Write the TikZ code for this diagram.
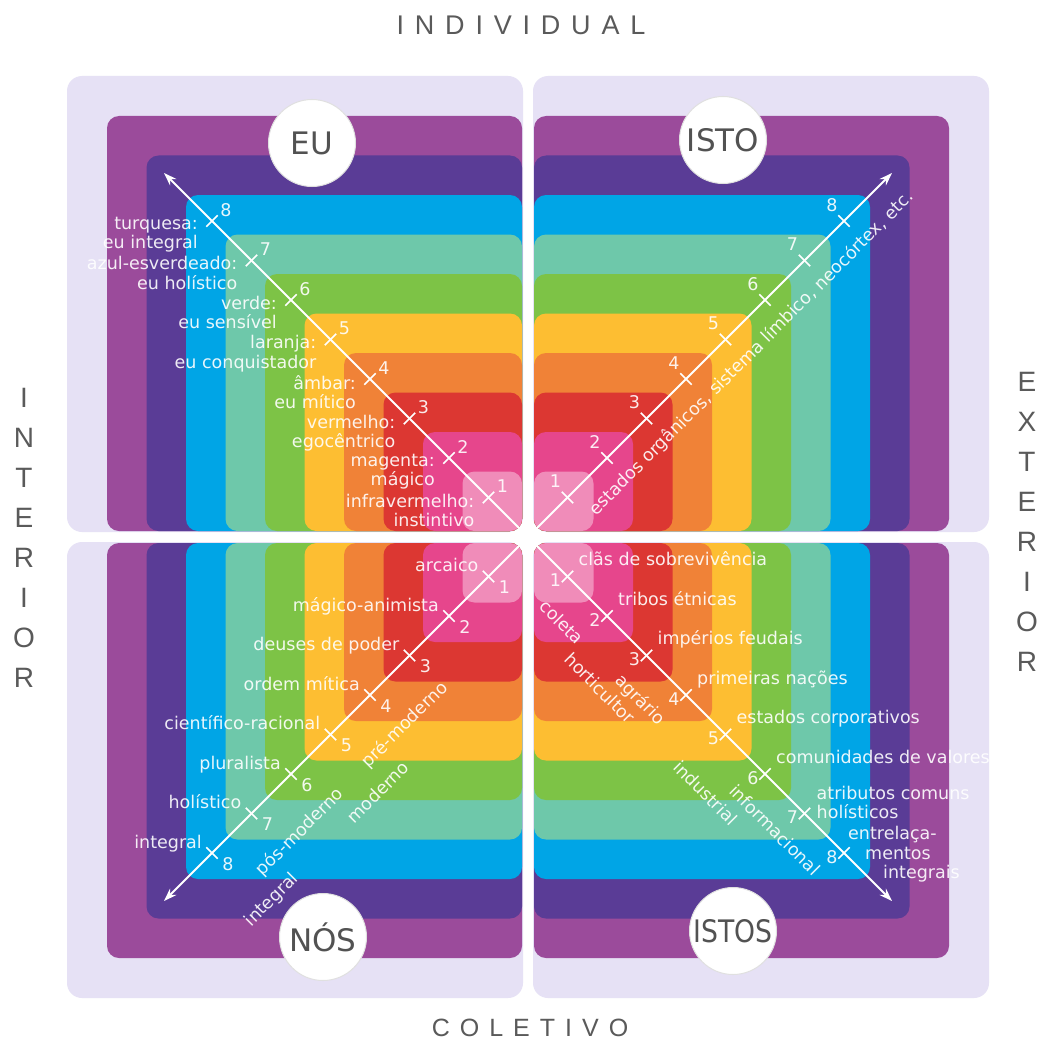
\documentclass[tikz,border=0pt]{standalone}
\usepackage{fontspec}
\setmainfont{DejaVu Sans}
\newfontfamily\capsfam[LetterSpace=40]{Liberation Sans}
\usetikzlibrary{arrows.meta,calc}
\definecolor{lvlInfra}{HTML}{F08CB9}
\definecolor{lvlMagenta}{HTML}{E6468C}
\definecolor{lvlRed}{HTML}{DC3732}
\definecolor{lvlAmber}{HTML}{F08237}
\definecolor{lvlOrange}{HTML}{FDBE32}
\definecolor{lvlGreen}{HTML}{7DC346}
\definecolor{lvlTeal}{HTML}{6EC8AA}
\definecolor{lvlTurq}{HTML}{00A5E6}
\definecolor{lvlIndigo}{HTML}{5A3C96}
\definecolor{lvlViolet}{HTML}{9B4B9B}
\definecolor{quadBg}{HTML}{E6E1F5}
\definecolor{sideGray}{HTML}{5A5A5A}
\newcommand\labfont{\fontsize{17.5}{19.5}\selectfont}
\newcommand\polefont{\fontsize{31}{31}\selectfont}

\begin{document}
\begin{tikzpicture}[
    x=1pt,y=-1pt,
    lab/.style={text=white,text opacity=.9,font=\labfont,inner sep=0pt},
    num/.style={text=white,text opacity=.9,font=\labfont,inner sep=0pt},
    axis/.style={draw=white,line width=1.8pt,-{Stealth[length=13pt,width=9pt]}},
    tickmark/.style={draw=white,line width=1.6pt},
    pole/.style={circle,fill=white,draw=black!12,line width=1pt,minimum size=87pt,inner sep=0pt,font=\polefont,text=black!68},
    side/.style={text=sideGray,inner sep=0pt}
]
\useasboundingbox (0,0) rectangle (1038,1043);
\fill[white] (0,0) rectangle (1038,1043);
\coordinate (c) at (528,537);

% quadrant backgrounds and nested level bands
\foreach \sx/\sy in {-1/-1,1/-1,-1/1,1/1}{
  \fill[quadBg,rounded corners=15pt] ($(c)+(5*\sx,5*\sy)$) rectangle ($(c)+(461*\sx,461*\sy)$);
  \foreach \col [count=\i] in {lvlViolet,lvlIndigo,lvlTurq,lvlTeal,lvlGreen,lvlOrange,lvlAmber,lvlRed,lvlMagenta,lvlInfra}{
    \pgfmathsetmacro\d{26+39.5*(11-\i)}
    \fill[\col,rounded corners=12pt] ($(c)+(6*\sx,6*\sy)$) rectangle ($(c)+(\d*\sx,\d*\sy)$);
  }
}

% diagonal axes
\coordinate (tipUL) at ($(c)+(-364,-364)$);
\coordinate (tipUR) at ($(c)+(364,-364)$);
\coordinate (tipLL) at ($(c)+(-364,364)$);
\coordinate (tipLR) at ($(c)+(364,364)$);
\draw[axis] (c) -- (tipUL);
\draw[axis] (c) -- (tipUR);
\draw[axis] (c) -- (tipLL);
\draw[axis] (c) -- (tipLR);

% ticks on the axes
\foreach \sx/\sy/\q in {-1/-1/ul,1/-1/ur,-1/1/ll,1/1/lr}
  \foreach \k in {1,...,8}{
    \coordinate (\q\k) at ($(c)+(39.5*\k*\sx,39.5*\k*\sy)$);
    \draw[tickmark] ($(\q\k)+(5.7*\sy,-5.7*\sx)$) -- ($(\q\k)+(-5.7*\sy,5.7*\sx)$);
  }

% level numbers
\foreach \k in {1,...,8}{
  \node[num] (ulNum\k) at ($(ul\k)+(14,-11)$) {\k};
  \node[num] (urNum\k) at ($(ur\k)+(-12,-16)$) {\k};
  \node[num] (llNum\k) at ($(ll\k)+(16,11)$) {\k};
  \node[num] (lrNum\k) at ($(lr\k)+(-12,4)$) {\k};
}

% EU: colours and selves
\foreach \k/\txt in {1/{infravermelho:\\instintivo},2/{magenta:\\mágico},3/{vermelho:\\egocêntrico},4/{âmbar:\\eu mítico},5/{laranja:\\eu conquistador},6/{verde:\\eu sensível},7/{azul-esverdeado:\\eu holístico},8/{turquesa:\\eu integral}}
  \node[lab,anchor=north east,align=right] (ulLab\k) at ($(ul\k)+(-14,-4)$) {\txt};

% ISTO: along the axis
\node[lab,rotate=45] (urLab) at ($(c)+(223.6,-183.6)$) {estados orgânicos, sistema límbico, neocórtex, etc.};

% NOS: worldviews
\foreach \k/\txt in {1/arcaico,2/mágico-animista,3/deuses de poder,4/ordem mítica,5/científico-racional,6/pluralista,7/holístico,8/integral}
  \node[lab,anchor=base east] (llLab\k) at ($(ll\k)+(-10,-5)$) {\txt};
\node[lab,rotate=45] (premod) at ($(c)+(-123,188)$) {pré-moderno};
\node[lab,rotate=45] (mod) at ($(c)+(-150,255)$) {moderno};
\node[lab,rotate=45] (posmod) at ($(c)+(-228,295)$) {pós-moderno};
\node[lab,rotate=45] (integ) at ($(c)+(-256,363)$) {integral};

% ISTOS: social systems
\foreach \k/\txt in {1/clãs de sobrevivência,2/tribos étnicas,3/impérios feudais,4/primeiras nações,5/estados corporativos,6/comunidades de valores}
  \node[lab,anchor=base west] (lrLab\k) at ($(lr\k)+(11,-11)$) {\txt};
\node[lab,anchor=north west,align=left] (lrLab7) at ($(lr7)+(12,-28)$) {atributos comuns\\holísticos};
\node[lab,anchor=north west,align=left] (lrLab8) at ($(lr8)+(4,-27)$) {entrelaça-\\\hspace*{17pt}mentos\\\hspace*{35pt}integrais};
\node[lab,rotate=-45] (coleta) at ($(c)+(34,85)$) {coleta};
\node[lab,rotate=-45] (horti) at ($(c)+(72,151)$) {horticultor};
\node[lab,rotate=-45] (agrar) at ($(c)+(112,163)$) {agrário};
\node[lab,rotate=-45] (indus) at ($(c)+(178,256)$) {industrial};
\node[lab,rotate=-45] (inform) at ($(c)+(247,293)$) {informacional};

% quadrant names
\node[pole] (eu) at ($(c)+(-216,-394)$) {EU};
\node[pole] (isto) at ($(c)+(195,-397)$) {ISTO};
\node[pole] (nos) at ($(c)+(-205,400)$) {NÓS};
\node[pole] (istos) at ($(c)+(205,394)$) {\scalebox{.86}[1]{ISTOS}};

% outer labels
\node[side,font={\capsfam\fontsize{27}{27}\selectfont}] (individual) at (521,25) {INDIVIDUAL};
\node[side,font={\capsfam\fontsize{25}{25}\selectfont}] (coletivo) at (530,1028) {COLETIVO};
\node[side,align=center,font={\capsfam\fontsize{28}{40}\selectfont}] (interior) at (24,538) {I\\N\\T\\E\\R\\I\\O\\R};
\node[side,align=center,font={\capsfam\fontsize{28}{40}\selectfont}] (exterior) at (1027,522) {E\\X\\T\\E\\R\\I\\O\\R};
\end{tikzpicture}
\end{document}
